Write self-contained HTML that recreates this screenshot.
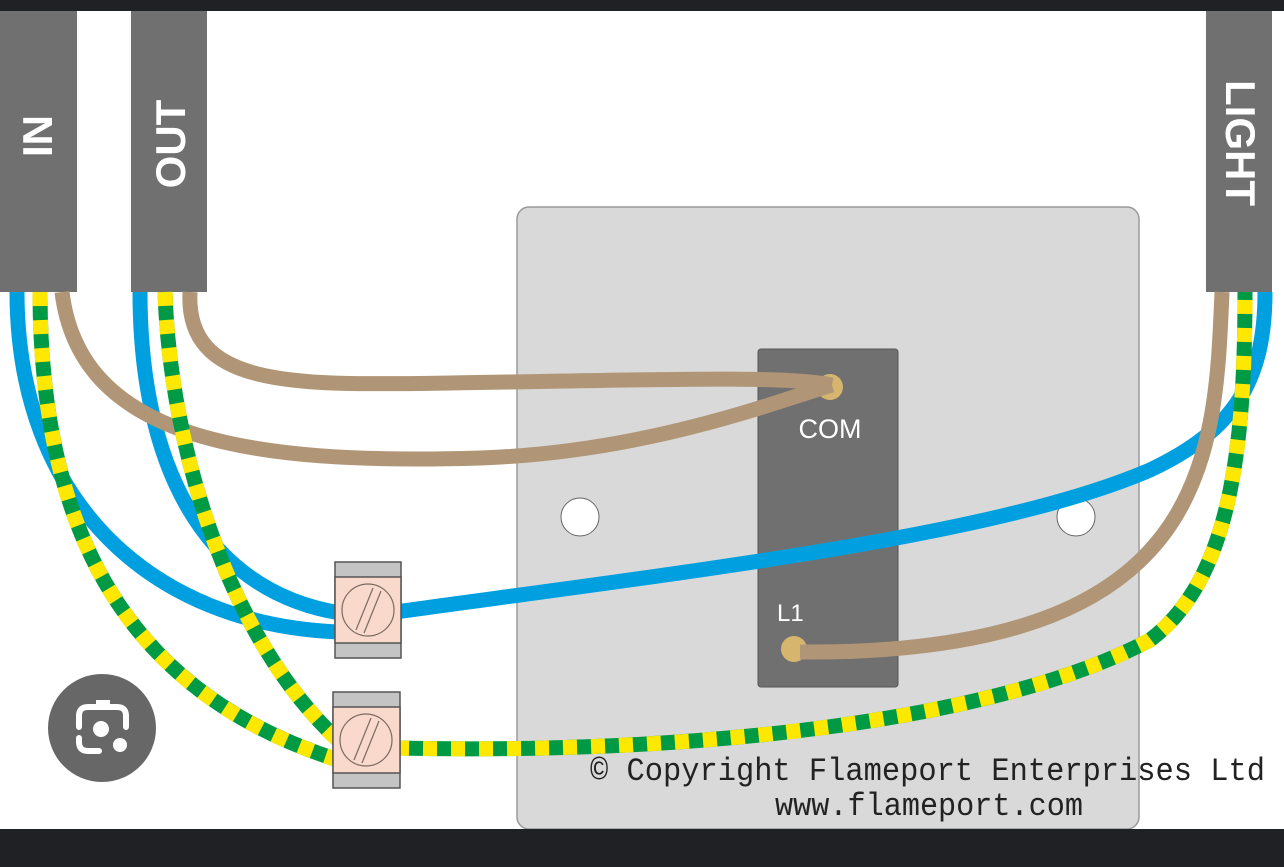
<!DOCTYPE html>
<html><head><meta charset="utf-8"><style>
html,body{margin:0;padding:0;background:#fff;width:1284px;height:867px;overflow:hidden}
svg{display:block}
</style></head><body>
<svg width="1284" height="867" viewBox="0 0 1284 867" xmlns="http://www.w3.org/2000/svg">
<rect x="0" y="0" width="1284" height="11" fill="#202124"/>
<rect x="517" y="207" width="622" height="622" rx="12" fill="#d9d9d9" stroke="#9a9a9a" stroke-width="1.5"/>
<circle cx="580" cy="517" r="19" fill="#fff" stroke="#666" stroke-width="1"/>
<circle cx="1076" cy="517" r="19" fill="#fff" stroke="#666" stroke-width="1"/>
<rect x="758" y="349" width="140" height="338" rx="3" fill="#707070" stroke="#555" stroke-width="1"/>
<text x="830" y="438" font-family="Liberation Sans, sans-serif" font-size="27" fill="#fff" text-anchor="middle">COM</text>
<text x="777" y="621" font-family="Liberation Sans, sans-serif" font-size="24" fill="#fff">L1</text>
<circle cx="830" cy="387" r="13" fill="#d6b56f"/>
<circle cx="794" cy="649" r="13" fill="#d6b56f"/>
<rect x="0" y="11" width="77" height="281" fill="#707070"/>
<rect x="131" y="11" width="76" height="281" fill="#707070"/>
<rect x="1206" y="11" width="66" height="281" fill="#707070"/>
<g font-family="Liberation Sans, sans-serif" font-weight="bold" font-size="42" fill="#fff" text-anchor="middle">
<text transform="translate(52,136) rotate(-90)">IN</text>
<text transform="translate(185,144) rotate(-90)">OUT</text>
<text transform="translate(1226,143) rotate(90)">LIGHT</text>
</g>
<g fill="none" stroke-width="15">
<path d="M17 292 C17 500 150 625 340 632" stroke="#00a0e0"/>
<path d="M140 292 C140 460 200 590 340 613" stroke="#00a0e0"/>
<path d="M395 612 C700 570 1000 535 1150 470 C1235 430 1265 380 1265 292" stroke="#00a0e0"/>
<path d="M62 292 C80 440 250 465 480 458 C650 452 780 400 832 385" stroke="#b09676"/>
<path d="M190 292 C185 390 300 385 450 383 C650 380 780 375 832 385" stroke="#b09676"/>
<path d="M1222 292 C1215 460 1210 655 800 652" stroke="#b09676"/>
<path d="M40 292 C40 560 150 700 338 760" stroke="#009a44"/>
<path d="M40 292 C40 560 150 700 338 760" stroke="#ffe800" stroke-dasharray="14 14"/>
<path d="M165 292 C170 450 230 640 338 740" stroke="#009a44"/>
<path d="M165 292 C170 450 230 640 338 740" stroke="#ffe800" stroke-dasharray="14 14"/>
<path d="M395 748 C700 755 1000 720 1150 640 C1230 580 1245 450 1245 292" stroke="#009a44"/>
<path d="M395 748 C700 755 1000 720 1150 640 C1230 580 1245 450 1245 292" stroke="#ffe800" stroke-dasharray="14 14"/>
</g>
<g stroke="#555" stroke-width="1.5">
<rect x="335" y="562" width="66" height="96" fill="#c4c4c4"/>
<rect x="335" y="577" width="66" height="66" fill="#f9d9cc"/>
<circle cx="368" cy="610" r="26" fill="none" stroke="#7a6a60" stroke-width="1.2"/>
<path d="M356 630 L373 588 M364 633 L381 591" stroke="#7a6a60" stroke-width="1.2"/>
<rect x="333" y="692" width="67" height="96" fill="#c4c4c4"/>
<rect x="333" y="707" width="67" height="66" fill="#f9d9cc"/>
<circle cx="366" cy="740" r="26" fill="none" stroke="#7a6a60" stroke-width="1.2"/>
<path d="M354 760 L371 718 M362 763 L379 721" stroke="#7a6a60" stroke-width="1.2"/>
</g>
<circle cx="102" cy="728" r="54" fill="#5f5f5f" opacity="0.95"/>
<g fill="none" stroke="#fff" stroke-width="6" stroke-linecap="round">
<path d="M79 727 V716 Q79 707 88 707 H117 Q126 707 126 716 V727"/>
<path d="M79 738 V742 Q79 751 88 751 H99"/>
</g>
<rect x="96" y="700" width="14" height="6" fill="#fff"/>
<circle cx="101" cy="729" r="8" fill="#fff"/>
<circle cx="120" cy="745" r="7" fill="#fff"/>
<g font-family="Liberation Mono, monospace" fill="#222">
<text x="590" y="780" font-size="32" textLength="675" lengthAdjust="spacingAndGlyphs">© Copyright Flameport Enterprises Ltd</text>
<text x="775" y="815" font-size="32" textLength="308" lengthAdjust="spacingAndGlyphs">www.flameport.com</text>
</g>
<rect x="0" y="829" width="1284" height="38" fill="#202124"/>
</svg>
</body></html>
